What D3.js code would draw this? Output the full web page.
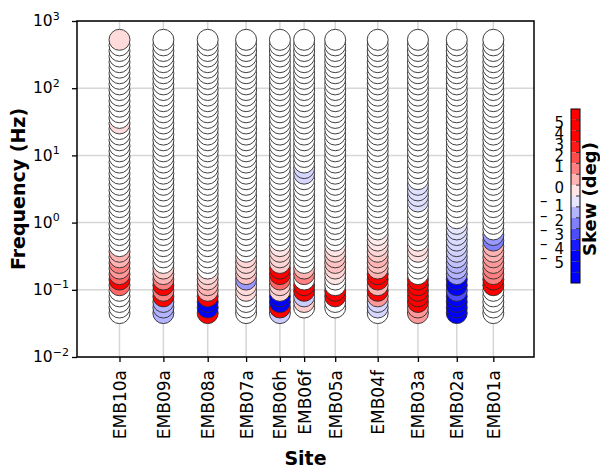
<!DOCTYPE html>
<html lang="en">
<head>
<meta charset="utf-8">
<title>Skew by site</title>
<script src="https://cdnjs.cloudflare.com/ajax/libs/d3/7.8.5/d3.min.js"></script>
<style>
  body { margin: 0; background: #fff; }
  text { font-family: "DejaVu Sans", sans-serif; }
</style>
</head>
<body>
<script>
// sites and their position along the profile (arbitrary distance units)
var sites = ["EMB10a","EMB09a","EMB08a","EMB07a","EMB06h","EMB06f","EMB05a","EMB04f","EMB03a","EMB02a","EMB01a"];
var siteDist = [9.3, 18.9, 28.6, 37.0, 44.4, 49.7, 56.5, 65.8, 74.6, 83.1, 91.1];

// frequencies (Hz), high to low
var freqs = [525,434,358,296,244,202,167,138,114,94.0,
             77.6,64.1,53.0,43.8,36.1,29.9,24.7,20.4,16.8,13.9,
             11.5,9.48,7.83,6.47,5.35,4.42,3.65,3.01,2.49,2.06,
             1.70,1.40,1.16,0.957,0.791,0.653,0.540,0.446,0.368,0.304,
             0.251,0.207,0.171,0.142,0.117,0.0966,0.0798,0.0659,0.0545,0.0450];

// skew (deg) per site, same order as freqs (null = no data)
var skewEMB10a = [0.7,0,0,0,0,0,0,0,0,0, 0,0,0,0,0,0.7,0,0,0,0, 0,0,0,0,0,0,0,0,0,0,
                  0,0,0,0,0,0,0,0,1.5,1.5, 2.5,2,3,5,3,0,0,0,0,0];
var skewEMB09a = [0,0,0,0,0,0,0,0,0,0, 0,0,0,0,0,0,0,0,0,0, 0,0,0,0,0,0,0,0,0,0,
                  0,0,0,0,0,0,0,0,0,0, 0,1,1.5,2.5,5,2.5,5,-1.5,-1.5,-1.5];
var skewEMB08a = [0,0,0,0,0,0,0,0,0,0, 0,0,0,0,0,0,0,0,0,0, 0,0,0,0,0,0,0,0,0,0,
                  0,0,0,0,0,0,0,0,0,0, 0,0,0.8,1,1.5,1.5,5,-5,-5,5];
var skewEMB07a = [0,0,0,0,0,0,0,0,0,0, 0,0,0,0,0,0,0,0,0,0, 0,0,0,0,0,0,0,0,0,0,
                  0,0,0,0,0,0,0,0,0,0.8, 0.8,0.8,1.2,-2,0.7,0.7,0,0,0,0];
var skewEMB06h = [0,0,0,0,0,0,0,0,0,0, 0,0,0,0,0,0,0,0,0,0, 0,0,0,0,0,0,0,0,0,0,
                  0,0,0,0,0,0,0,0.5,0.8,0.8, 1,5,5,3,1,0.8,-5,-5,5,-1];
var skewEMB06f = [0,0,0,0,0,0,0,0,0,0, 0,0,0,0,0,0,0,0,0,0, 0,0,0,-0.8,-0.8,0,0,0,0,0,
                  0,0,0,0,0,0,0,0,0,0, 0,1.5,2.5,0,5,5,-1,1,0,null];
var skewEMB05a = [0,0,0,0,0,0,0,0,0,0, 0,0,0,0,0,0,0,0,0,0, 0,0,0,0,0,0,0,0,0,0,
                  0,0,0,0,0,0,0,0.5,0.8,1.2, 1.2,0.8,0.5,0,0,5,5,0,0,null];
var skewEMB04f = [0,0,0,0,0,0,0,0,0,0, 0,0,0,0,0,0,0,0,0,0, 0,0,0,0,0,0,0,0,0,0,
                  0,0,0,0,0,0.4,0.5,0.8,1,1.5, 1.2,1.5,5,5,1.5,5,2,-0.8,-0.8,0];
var skewEMB03a = [0,0,0,0,0,0,0,0,0,0, 0,0,0,0,0,0,0,0,0,0, 0,0,0,0,0,0,-0.6,-0.6,-0.6,-0.6,
                  0,0,0,0,0,0,0,0.6,0.6,0, 0,0,0,5,5,5,5,5,2,2];
var skewEMB02a = [0,0,0,0,0,0,0,0,0,0, 0,0,0,0,0,0,0,0,0,0, 0,0,0,0,0,0,0,0,0,0,
                  0,0,0,-0.5,-0.6,-0.7,-0.8,-0.9,-1,-1.2, -1.5,-1.5,-2,-5,-5,-3.5,-5,-5,-5,-5];
var skewEMB01a = [0,0,0,0,0,0,0,0,0,0, 0,0,0,0,0,0,0,0,0,0, 0,0,0,0,0,0,0,0,0,0,
                  0,0,0,0,0,-2,-2.5,1.5,1.5,2, 2,2.5,2.5,5,5,0,0,0,0,0];
var skews = [skewEMB10a, skewEMB09a, skewEMB08a, skewEMB07a, skewEMB06h, skewEMB06f,
             skewEMB05a, skewEMB04f, skewEMB03a, skewEMB02a, skewEMB01a];

var yTicks = [1e-2, 1e-1, 1e0, 1e1, 1e2, 1e3];
var yExps = ["\u22122", "\u22121", "0", "1", "2", "3"];
var cbBounds = [8,7,6,5,4,3,2,1,0,-1,-2,-3,-4,-5,-6,-7,-8];
var cbLabels = [5,4,3,2,1,0,-1,-2,-3,-4,-5];

var w = 600, h = 470;
var pL = 77, pR = 534, pT = 21, pB = 357;

var svg = d3.select("body").append("svg")
    .attr("width", w)
    .attr("height", h);

var x = d3.scaleLinear().domain([0, 100]).range([pL, pR]);
var y = d3.scaleLog().domain([1e-2, 1e3]).range([pB, pT]);
var color = d3.scaleLinear().domain([-5, 0, 5])
    .range(["#0000ff", "#ffffff", "#ff0000"]).clamp(true);

// grid
svg.append("g").selectAll("line")
  .data(yTicks)
  .enter().append("line")
    .attr("x1", pL).attr("x2", pR)
    .attr("y1", function(d) { return y(d); })
    .attr("y2", function(d) { return y(d); })
    .attr("stroke", "#d6d6d6").attr("stroke-width", 1.5);
svg.append("g").selectAll("line")
  .data(siteDist)
  .enter().append("line")
    .attr("x1", function(d) { return x(d); })
    .attr("x2", function(d) { return x(d); })
    .attr("y1", pT).attr("y2", pB)
    .attr("stroke", "#d6d6d6").attr("stroke-width", 1.5);

// circles, low frequency drawn first
var pts = [];
sites.forEach(function(s, i) {
  for (var k = freqs.length - 1; k >= 0; k--) {
    if (skews[i][k] === null) continue;
    pts.push({ d: siteDist[i], f: freqs[k], s: skews[i][k] });
  }
});
svg.append("g").selectAll("circle")
  .data(pts)
  .enter().append("circle")
    .attr("cx", function(d) { return x(d.d); })
    .attr("cy", function(d) { return y(d.f); })
    .attr("r", 10.5)
    .attr("fill", function(d) { return color(d.s); })
    .attr("stroke", "#2b2b2b")
    .attr("stroke-width", 0.9);

// axes
var yAxis = svg.append("g")
    .attr("transform", "translate(" + pL + ",0)")
    .call(d3.axisLeft(y).tickValues(yTicks).tickSize(5).tickFormat(""));
yAxis.select(".domain").remove();
yAxis.selectAll(".tick line").attr("stroke-width", 1.3);
yAxis.selectAll(".tick text").remove();
yAxis.selectAll(".tick").append("text")
    .attr("fill", "#000")
    .attr("text-anchor", "start")
    .attr("x", -44)
    .attr("dy", "0.3em")
    .style("font-size", "15.5px")
    .each(function(d, i) {
      var t = d3.select(this);
      t.append("tspan").text("10");
      t.append("tspan").attr("dy", "-0.6em").style("font-size", "11px").text(yExps[i]);
    });

var xAxis = svg.append("g")
    .attr("transform", "translate(0," + pB + ")")
    .call(d3.axisBottom(x).tickValues(siteDist).tickSize(5)
      .tickFormat(function(d, i) { return sites[i]; }));
xAxis.select(".domain").remove();
xAxis.selectAll(".tick line").attr("stroke-width", 1.3);
xAxis.selectAll(".tick text")
    .attr("fill", "#000")
    .style("font-size", "17px")
    .attr("text-anchor", "end")
    .attr("x", 0).attr("y", 0).attr("dy", 0)
    .attr("transform", "translate(6,13) rotate(-90)");

// frame
svg.append("rect")
    .attr("x", pL).attr("y", pT)
    .attr("width", pR - pL).attr("height", pB - pT)
    .attr("fill", "none").attr("stroke", "#000").attr("stroke-width", 1.5);

// axis titles
svg.append("text")
    .attr("transform", "translate(25," + (pT + pB) / 2 + ") rotate(-90)")
    .attr("text-anchor", "middle")
    .style("font-size", "19px").style("font-weight", "bold")
    .text("Frequency (Hz)");
svg.append("text")
    .attr("x", (pL + pR) / 2).attr("y", 465)
    .attr("text-anchor", "middle")
    .style("font-size", "19px").style("font-weight", "bold")
    .text("Site");

// colorbar
var cbX = 571, cbW = 9;
var cbY = d3.scaleLinear().domain([8, -8]).range([109, 283]);
var cb = svg.append("g");
cb.selectAll("rect")
  .data(cbBounds.slice(0, -1))
  .enter().append("rect")
    .attr("x", cbX)
    .attr("y", function(d) { return cbY(d); })
    .attr("width", cbW)
    .attr("height", function(d) { return cbY(d - 1) - cbY(d); })
    .attr("fill", function(d) { return color(d - 0.5); });
cb.append("rect")
    .attr("x", cbX).attr("y", cbY(8))
    .attr("width", cbW).attr("height", cbY(-8) - cbY(8))
    .attr("fill", "none").attr("stroke", "#000").attr("stroke-width", 1);
cb.selectAll("line")
  .data(cbBounds.slice(1, -1))
  .enter().append("line")
    .attr("x1", cbX + cbW - 4).attr("x2", cbX + cbW)
    .attr("y1", function(d) { return cbY(d); })
    .attr("y2", function(d) { return cbY(d); })
    .attr("stroke", "#333").attr("stroke-width", 1);

// colorbar labels sit where the reference puts them
var cbLab = d3.scaleLinear().domain([5, 1, 0, -1, -5]).range([123, 167, 188, 206, 263]);
cbLabels.forEach(function(v) {
  cb.append("text")
    .attr("x", 564).attr("y", cbLab(v))
    .attr("dy", "0.35em")
    .attr("text-anchor", "end")
    .style("font-size", "15px")
    .text(Math.abs(v));
  if (v < 0) {
    cb.append("text")
      .attr("x", 540).attr("y", cbLab(v) - 5)
      .attr("dy", "0.35em")
      .style("font-size", "15px")
      .text("\u2013");
  }
});
cb.append("text")
    .attr("transform", "translate(596,199) rotate(-90)")
    .attr("text-anchor", "middle")
    .style("font-size", "18px").style("font-weight", "bold")
    .text("Skew (deg)");
</script>
</body>
</html>
